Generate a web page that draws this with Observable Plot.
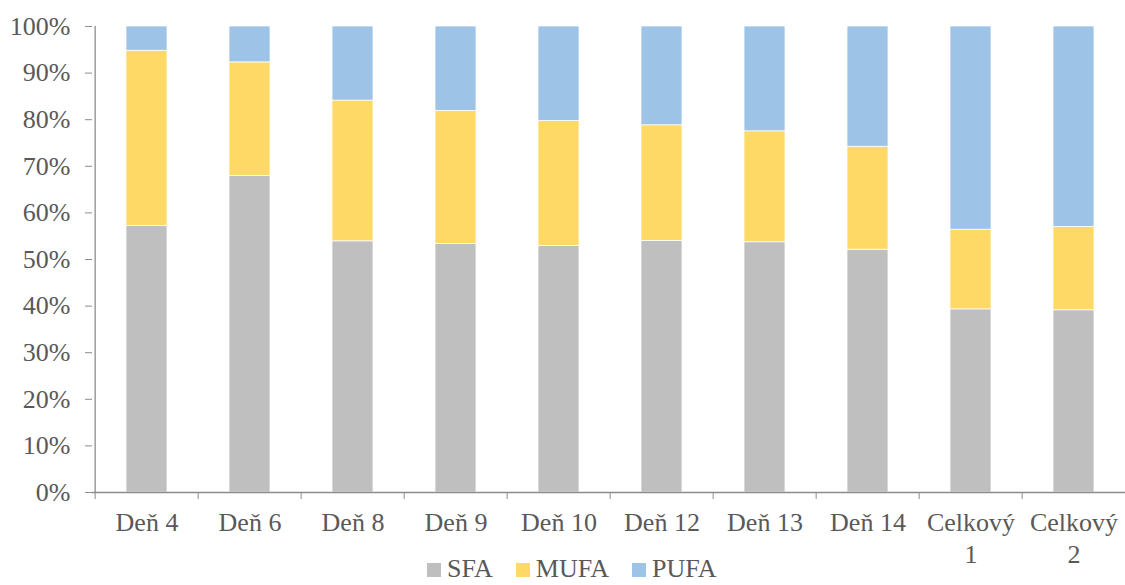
<!DOCTYPE html>
<html><head><meta charset="utf-8">
<script src="https://cdn.jsdelivr.net/npm/d3@7"></script>
<script src="https://cdn.jsdelivr.net/npm/@observablehq/plot@0.6"></script>
<style>
body{margin:0;background:#fff;font-family:"Liberation Serif","Times New Roman",Times,"DejaVu Serif",serif;}
#chart{position:relative;width:1125px;height:585px;overflow:hidden}
#chart svg, #chart svg text, #chart svg g{font-family:"Liberation Serif","Times New Roman",Times,"DejaVu Serif",serif !important;}
#legend{position:absolute;left:427px;top:557px;display:flex;align-items:baseline;font-size:26px;line-height:24px;color:#595959;white-space:nowrap}
.item{display:flex;align-items:baseline;margin-right:23px}
.sw{display:inline-block;width:14px;height:14px;margin-right:6px}
</style>
</head><body>
<div id="chart"><div id="legend"></div></div>
<script>
const categories = ["Deň 4","Deň 6","Deň 8","Deň 9","Deň 10","Deň 12","Deň 13","Deň 14","Celkový\n1","Celkový\n2"];
const seriesNames = ["SFA","MUFA","PUFA"];
const seriesColors = ["#BFBFBF","#FFD966","#9DC3E6"];
const sfa  = [57.2,67.9,53.9,53.3,52.9,54.0,53.7,52.1,39.3,39.1];
const mufa = [37.6,24.4,30.2,28.6,26.8,24.8,23.8,22.1,17.1,17.9];
const pufa = [5.2,7.7,15.9,18.1,20.3,21.2,22.5,25.8,43.6,43.0];
const yTicks = [0,10,20,30,40,50,60,70,80,90,100];

const seriesValues = [sfa, mufa, pufa];
const data = [];
categories.forEach((c, i) => {
  seriesNames.forEach((s, j) => data.push({category: c, series: s, value: seriesValues[j][i]}));
});

const xRange = [92, 1129];
const halfStep = (xRange[1] - xRange[0]) / categories.length / 2;
const axisColor = "#8C8C8C";
const textColor = "#595959";
const serif = '"Liberation Serif","Times New Roman",Times,"DejaVu Serif",serif';

const chart = Plot.plot({
  width: 1125,
  height: 556,
  marginTop: 26,
  marginBottom: 64,
  marginLeft: 92,
  marginRight: 0,
  style: {fontSize: "26px", fontFamily: serif, color: textColor, background: "#fff", overflow: "visible"},
  x: {domain: categories, range: xRange, paddingInner: 0.6, paddingOuter: 0.3},
  y: {domain: [0, 100]},
  color: {domain: seriesNames, range: seriesColors},
  marks: [
    Plot.barY(data, {x: "category", y: "value", fill: "series", stroke: "#fff", strokeWidth: 0.75}),
    Plot.ruleY([0], {stroke: axisColor, strokeWidth: 1.3}),
    Plot.ruleX([categories[0]], {x: d => d, dx: -halfStep, y1: 0, y2: 100, stroke: axisColor, strokeWidth: 1.3}),
    Plot.axisY({ticks: yTicks, tickFormat: d => d + "%", tickSize: 7, tickPadding: 15, stroke: axisColor, fill: textColor, fontSize: 26, fontFamily: serif, label: null}),
    Plot.axisX({tickSize: 7, tickFormat: () => "", dx: -halfStep, stroke: axisColor, label: null}),
    Plot.axisX({tickSize: 0, tickPadding: 16, fill: textColor, fontSize: 26, fontFamily: serif, lineHeight: 1.22, label: null})
  ]
});
document.getElementById("chart").prepend(chart);

const legend = document.getElementById("legend");
seriesNames.forEach((s, i) => {
  const item = document.createElement("span");
  item.className = "item";
  const sw = document.createElement("span");
  sw.className = "sw";
  sw.style.background = seriesColors[i];
  item.appendChild(sw);
  item.appendChild(document.createTextNode(s));
  legend.appendChild(item);
});
</script>
</body></html>
